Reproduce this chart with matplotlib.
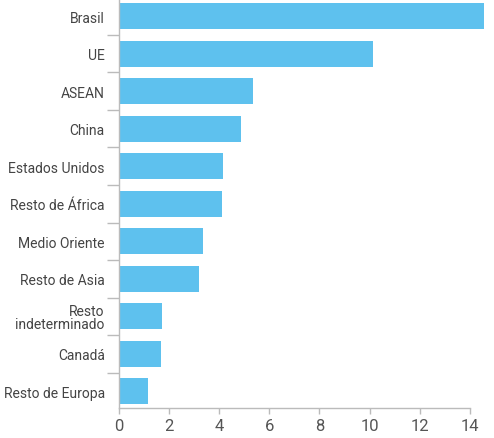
import matplotlib.pyplot as plt

# data
regions = ["Brasil", "UE", "ASEAN", "China", "Estados Unidos", "Resto de África",
           "Medio Oriente", "Resto de Asia", "Resto\nindeterminado", "Canadá",
           "Resto de Europa"]
values = [14.56, 10.14, 5.35, 4.86, 4.14, 4.12, 3.36, 3.20, 1.73, 1.69, 1.16]
xticks = [0, 2, 4, 6, 8, 10, 12, 14]

plt.rcParams['font.family'] = ['Roboto', 'DejaVu Sans']

fig = plt.figure(figsize=(4.94, 4.39), dpi=100)
ax = fig.add_axes([118.7 / 494, 29.7 / 439, (485 - 118.7) / 494, 411 / 439])

pos = list(range(len(regions)))
ax.barh(pos, values, height=0.69, color='#5EC1EE')

ax.set_xlim(0, 14.6)
ax.set_ylim(10.45, -0.5)

# category labels centred on bars, small ticks between categories
ax.set_yticks(pos)
ax.set_yticklabels(regions, fontsize=10, color='#444444', linespacing=0.9)
ax.set_yticks([p + 0.5 for p in pos[:-1]], minor=True)
ax.tick_params(axis='y', which='major', length=0, pad=10)
ax.tick_params(axis='y', which='minor', length=9, width=1, color='#bbbbbb')

ax.set_xticks(xticks)
ax.set_xticklabels([str(t) for t in xticks], fontsize=12, color='#555555')
ax.tick_params(axis='x', length=4, width=1, color='#bbbbbb', pad=3)

for s in ['top', 'right']:
    ax.spines[s].set_visible(False)
for s in ['left', 'bottom']:
    ax.spines[s].set_color('#bbbbbb')
    ax.spines[s].set_linewidth(1)
ax.spines['bottom'].set_bounds(0, 14)

fig.savefig("out.png", dpi=100)
